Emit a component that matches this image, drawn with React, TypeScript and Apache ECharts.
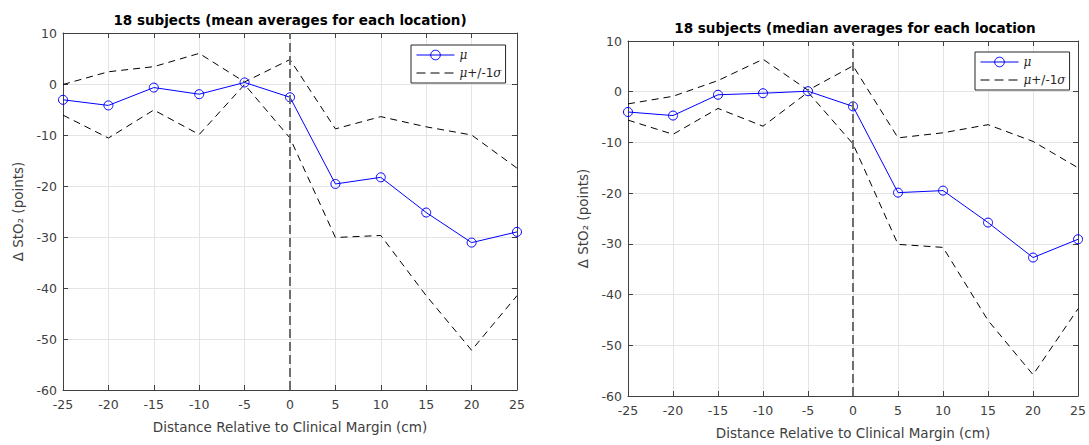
import React, { useEffect, useRef } from "react";
import * as echarts from "echarts";

const xs = [-25, -20, -15, -10, -5, 0, 5, 10, 15, 20, 25];
const xTicks = [-25, 25, 5];
const yTicks = [-60, 10, 10];

const meanMu = [-3.1, -4.2, -0.7, -2.0, 0.3, -2.6, -19.6, -18.3, -25.2, -31.1, -29.0];
const meanUpper = [-0.1, 2.4, 3.4, 6.0, 0.4, 4.8, -8.8, -6.4, -8.4, -10.0, -16.5];
const meanLower = [-6.1, -10.6, -5.1, -9.9, -0.1, -10.6, -30.1, -29.7, -41.5, -52.2, -41.5];

const medMu = [-4.0, -4.7, -0.6, -0.3, 0.1, -2.9, -19.9, -19.5, -25.8, -32.7, -29.1];
const medUpper = [-2.4, -0.9, 2.2, 6.4, 0.3, 5.1, -9.1, -8.1, -6.5, -9.8, -15.0];
const medLower = [-5.6, -8.4, -3.3, -6.8, -0.1, -10.3, -30.1, -30.7, -45.1, -55.8, -42.8];

const titles = [
  "18 subjects (mean averages for each location)",
  "18 subjects (median averages for each location",
];
const xName = "Distance Relative to Clinical Margin (cm)";
const yName = "Δ StO₂ (points)";
const muName = "μ";
const sigName = "μ+/-1σ";

const FONT = "DejaVu Sans";
const AX = "#404040";

const pairs = (v: number[]) => xs.map((x, i) => [x, v[i]]);

export default function App() {
  const ref = useRef<HTMLDivElement>(null);
  useEffect(() => {
    document.body.style.margin = "0";
    const chart = echarts.init(ref.current!, null, { renderer: "svg" });
    const grids = [
      { left: 63, top: 33, width: 454, height: 357 },
      { left: 628, top: 41, width: 454, height: 358 },
    ];
    const xAxis: any[] = [];
    const yAxis: any[] = [];
    grids.forEach((_, g) => {
      xAxis.push({
        type: "value",
        gridIndex: g,
        min: xTicks[0],
        max: xTicks[1],
        interval: xTicks[2],
        position: "bottom",
        axisLine: { show: true, onZero: false, lineStyle: { color: AX, width: 1 } },
        axisTick: { show: true, inside: true, length: 5, lineStyle: { color: AX } },
        axisLabel: { color: AX, fontSize: 12.5, fontFamily: FONT, margin: 8 },
        splitLine: { show: true, lineStyle: { color: "#e4e4e4", width: 1 } },
        name: xName,
        nameLocation: "middle",
        nameGap: 30,
        nameTextStyle: { color: AX, fontSize: 13.5, fontFamily: FONT },
      });
      yAxis.push({
        type: "value",
        gridIndex: g,
        min: yTicks[0],
        max: yTicks[1],
        interval: yTicks[2],
        position: "left",
        axisLine: { show: true, onZero: false, lineStyle: { color: AX, width: 1 } },
        axisTick: { show: true, inside: true, length: 5, lineStyle: { color: AX } },
        axisLabel: { color: AX, fontSize: 12.5, fontFamily: FONT, margin: 6 },
        splitLine: { show: true, lineStyle: { color: "#e4e4e4", width: 1 } },
        name: yName,
        nameLocation: "middle",
        nameGap: 38,
        nameRotate: 90,
        nameTextStyle: { color: AX, fontSize: 13.5, fontFamily: FONT },
      });
    });
    grids.forEach((_, g) => {
      xAxis.push({
        type: "value",
        gridIndex: g,
        min: xTicks[0],
        max: xTicks[1],
        interval: xTicks[2],
        position: "top",
        axisLine: { show: true, onZero: false, lineStyle: { color: AX, width: 1 } },
        axisTick: { show: true, inside: true, length: 5, lineStyle: { color: AX } },
        axisLabel: { show: false },
        splitLine: { show: false },
      });
      yAxis.push({
        type: "value",
        gridIndex: g,
        min: yTicks[0],
        max: yTicks[1],
        interval: yTicks[2],
        position: "right",
        axisLine: { show: true, onZero: false, lineStyle: { color: AX, width: 1 } },
        axisTick: { show: true, inside: true, length: 5, lineStyle: { color: AX } },
        axisLabel: { show: false },
        splitLine: { show: false },
      });
    });

    const sets = [
      [meanMu, meanUpper, meanLower],
      [medMu, medUpper, medLower],
    ];
    const series: any[] = [];
    sets.forEach(([mu, up, lo], g) => {
      [up, lo].forEach((v) => {
        series.push({
          type: "line",
          name: sigName,
          xAxisIndex: g,
          yAxisIndex: g,
          data: pairs(v),
          symbol: "none",
          lineStyle: { color: "#000", width: 1, type: [7, 5] },
          itemStyle: { color: "#000" },
          z: 3,
        });
      });
      series.push({
        type: "line",
        name: muName,
        xAxisIndex: g,
        yAxisIndex: g,
        data: pairs(mu),
        symbol: "circle",
        symbolSize: 9,
        lineStyle: { color: "#0000ff", width: 1 },
        itemStyle: { color: "rgba(255,255,255,0)", borderColor: "#0000ff", borderWidth: 1 },
        z: 4,
        markLine: {
          silent: true,
          symbol: ["none", "none"],
          label: { show: false },
          lineStyle: { color: "#6e6e6e", width: 2, type: [9, 4] },
          data: [{ xAxis: 0 }],
        },
      });
    });

    const legendPos = [
      { left: 411, top: 45 },
      { left: 975, top: 52 },
    ];
    const legend = legendPos.map((p) => ({
      ...p,
      orient: "vertical",
      backgroundColor: "#fff",
      borderColor: "#262626",
      borderWidth: 1,
      borderRadius: 0,
      padding: [4, 4, 4, 5],
      itemGap: 6,
      itemWidth: 38,
      itemHeight: 12,
      data: [
        {
          name: muName,
          lineStyle: { width: 1, color: "#0000ff" },
          itemStyle: { color: "rgba(255,255,255,0)", borderColor: "#0000ff", borderWidth: 1 },
        },
        {
          name: sigName,
          lineStyle: { width: 1, color: "#000", type: [9, 5] },
          itemStyle: { opacity: 0 },
        },
      ],
      formatter: (n: string) => (n === muName ? "{i|μ}" : "{i|μ}{n|+/-1}{i|σ}"),
      textStyle: {
        color: "#262626",
        fontSize: 12,
        fontFamily: FONT,
        rich: {
          i: { fontStyle: "italic", fontFamily: "DejaVu Serif", fontSize: 12, color: "#262626" },
          n: { fontFamily: FONT, fontSize: 12, color: "#262626" },
        },
      },
    }));

    const graphic = [
      { cx: 290, cy: 20, t: titles[0] },
      { cx: 855, cy: 28, t: titles[1] },
    ].map((o) => ({
      type: "text",
      x: o.cx,
      y: o.cy,
      style: {
        text: o.t,
        textAlign: "center",
        textVerticalAlign: "middle",
        fontSize: 13.5,
        fontWeight: "bold",
        fontFamily: FONT,
        fill: "#000",
      },
    }));

    chart.setOption({
      animation: false,
      backgroundColor: "#fff",
      grid: grids,
      xAxis,
      yAxis,
      legend,
      series,
      graphic,
    });
    return () => chart.dispose();
  }, []);
  return <div ref={ref} style={{ width: 1089, height: 445 }} />;
}
